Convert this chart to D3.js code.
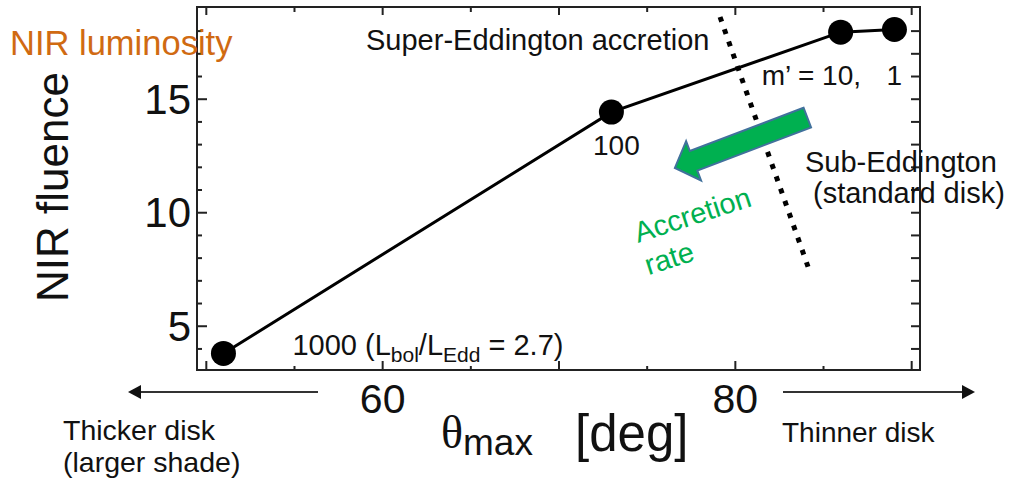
<!DOCTYPE html>
<html><head><meta charset="utf-8">
<script src="https://cdn.jsdelivr.net/npm/d3@7/dist/d3.min.js"></script>
<style>
body{margin:0;background:#fff}
svg{display:block}
text{font-family:"Liberation Sans",Arial,Helvetica,sans-serif;fill:#111}
</style>
</head><body>
<svg id="c" width="1010" height="484"></svg>
<script>
// ---- data ----
const thetaMax = [51.0, 73.0, 86.0, 89.05];
const nirFluence = [3.78, 14.41, 17.93, 18.05];
const accretionRate = ["1000", "100", "10", "1"];
const xMajorTicks = [50, 60, 70, 80, 90];
const xMinorTicks = [55, 65, 75, 85];
const xTickLabels = ["60", "80"];
const yMajorTicks = [5, 10, 15];
const yMinorTicks = [4, 6, 7, 8, 9, 11, 12, 13, 14, 16, 17, 18];
const yTickLabels = ["5", "10", "15"];
// annotation anchors in data units
const dividerLine = [[79.16, 18.6], [84.15, 7.6]];
const rateArrow = {tail: [84.11, 14.17], tip: [76.6, 11.95]};

// ---- layout ----
const svg = d3.select("#c");
const L = 197, R = 920, T = 7, B = 370;
const x = d3.scaleLinear().domain([49.5, 90.5]).range([L, R]);
const y = d3.scaleLinear().domain([3.05, 19.04]).range([B, T]);
const axisColor = "#222";

function styleAxis(g) {
  g.select(".domain").remove();
  g.selectAll(".tick line").attr("stroke", axisColor).attr("stroke-width", 2);
  g.selectAll("text").attr("fill", "#111").style("font-family", '"Liberation Sans",Arial,sans-serif');
}

// bottom axis
svg.append("g").attr("transform", `translate(0,${B})`)
  .call(d3.axisBottom(x).tickValues(xMajorTicks).tickSize(-9).tickPadding(14)
    .tickFormat(d => xTickLabels.includes(String(d)) ? String(d) : ""))
  .call(styleAxis)
  .call(g => g.selectAll("text").attr("font-size", 41));
svg.append("g").attr("transform", `translate(0,${B})`)
  .call(d3.axisBottom(x).tickValues(xMinorTicks).tickSize(-4).tickFormat(""))
  .call(styleAxis);
// top axis
svg.append("g").attr("transform", `translate(0,${T})`)
  .call(d3.axisTop(x).tickValues(xMajorTicks).tickSize(-8).tickFormat(""))
  .call(styleAxis);
svg.append("g").attr("transform", `translate(0,${T})`)
  .call(d3.axisTop(x).tickValues(xMinorTicks).tickSize(-5).tickFormat(""))
  .call(styleAxis);
// left axis
svg.append("g").attr("transform", `translate(${L},0)`)
  .call(d3.axisLeft(y).tickValues(yMajorTicks).tickSize(-10).tickPadding(6)
    .tickFormat((d, i) => yTickLabels[i]))
  .call(styleAxis)
  .call(g => g.selectAll("text").attr("font-size", 42).attr("dy", "0.35em"));
svg.append("g").attr("transform", `translate(${L},0)`)
  .call(d3.axisLeft(y).tickValues(yMinorTicks).tickSize(-5).tickFormat(""))
  .call(styleAxis);
// right axis
svg.append("g").attr("transform", `translate(${R},0)`)
  .call(d3.axisRight(y).tickValues(yMajorTicks.concat(yMinorTicks)).tickSize(-9).tickFormat(""))
  .call(styleAxis);

// frame
svg.append("rect").attr("x", L).attr("y", T).attr("width", R - L).attr("height", B - T)
  .attr("fill", "none").attr("stroke", axisColor).attr("stroke-width", 2);

// dotted divider
svg.append("line")
  .attr("x1", x(dividerLine[0][0])).attr("y1", y(dividerLine[0][1]))
  .attr("x2", x(dividerLine[1][0])).attr("y2", y(dividerLine[1][1]))
  .attr("stroke", "#000").attr("stroke-width", 5).attr("stroke-dasharray", "5,8");

// series
const pts = thetaMax.map((t, i) => ({t, f: nirFluence[i], lab: accretionRate[i]}));
svg.append("path").datum(pts)
  .attr("d", d3.line().x(d => x(d.t)).y(d => y(d.f)))
  .attr("fill", "none").attr("stroke", "#000").attr("stroke-width", 3);
svg.selectAll("circle.pt").data(pts).join("circle").attr("class", "pt")
  .attr("cx", d => x(d.t)).attr("cy", d => y(d.f)).attr("r", 12.5).attr("fill", "#000");

// green accretion arrow
(function () {
  const tx = x(rateArrow.tail[0]), ty = y(rateArrow.tail[1]);
  const px = x(rateArrow.tip[0]), py = y(rateArrow.tip[1]);
  const len = Math.hypot(px - tx, py - ty);
  const ux = (px - tx) / len, uy = (py - ty) / len;
  const nx = -uy, ny = ux;
  const hw = 10.5, hh = 21, hl = 20;
  const bx = px - ux * hl, by = py - uy * hl;
  const poly = [
    [tx + nx * hw, ty + ny * hw], [bx + nx * hw, by + ny * hw], [bx + nx * hh, by + ny * hh],
    [px, py], [bx - nx * hh, by - ny * hh], [bx - nx * hw, by - ny * hw], [tx - nx * hw, ty - ny * hw]
  ];
  svg.append("polygon").attr("points", poly.map(p => p.join(",")).join(" "))
    .attr("fill", "#00B050").attr("stroke", "#41719C").attr("stroke-width", 2).attr("stroke-linejoin", "miter");
})();

// point labels
const p0 = pts[0], p1 = pts[1], p2 = pts[2], p3 = pts[3];
const l0 = svg.append("text").attr("x", x(p0.t) + 69).attr("y", y(p0.f) + 2).attr("font-size", 29);
l0.append("tspan").text(p0.lab + " (L");
l0.append("tspan").attr("font-size", 21).attr("dy", 7).text("bol");
l0.append("tspan").attr("dy", -7).text("/L");
l0.append("tspan").attr("font-size", 21).attr("dy", 7).text("Edd");
l0.append("tspan").attr("dy", -7).text(" = 2.7)");
svg.append("text").attr("x", x(p1.t) + 5).attr("y", y(p1.f) + 43).attr("font-size", 28)
  .attr("text-anchor", "middle").text(p1.lab);
svg.append("text").attr("x", x(p2.t) - 79).attr("y", y(p2.f) + 53).attr("font-size", 28)
  .text("m\u2019 = " + p2.lab + ",");
svg.append("text").attr("x", x(p3.t) - 8).attr("y", y(p3.f) + 56).attr("font-size", 28)
  .text(p3.lab);

// region text
svg.append("text").attr("x", 366).attr("y", 50).attr("font-size", 29).text("Super-Eddington accretion");
const sub = svg.append("text").attr("font-size", 29);
sub.append("tspan").attr("x", 805).attr("y", 172).text("Sub-Eddington");
sub.append("tspan").attr("x", 813).attr("y", 203).text("(standard disk)");
const acc = svg.append("text").attr("transform", "translate(638,243) rotate(-18)")
  .attr("font-size", 29).style("fill", "#00B050");
acc.append("tspan").attr("x", 0).attr("y", 0).text("Accretion");
acc.append("tspan").attr("x", 0).attr("y", 34).text("rate");

// axis titles
svg.append("text").attr("x", 10).attr("y", 55).attr("font-size", 34.5).style("fill", "#D06A12").text("NIR luminosity");
svg.append("text").attr("transform", "translate(68,187) rotate(-90)").attr("text-anchor", "middle")
  .attr("font-size", 44).text("NIR fluence");
const xt = svg.append("text").attr("x", 441).attr("y", 448);
xt.append("tspan").style("font-family", '"Liberation Serif","Times New Roman",serif').attr("font-size", 46).text("\u03B8");
xt.append("tspan").attr("font-size", 37).attr("dy", 7).text("max");
svg.append("text").attr("x", 575).attr("y", 451).attr("font-size", 51).text("[deg]");

// disk-thickness arrows
const arrowColor = "#333";
function hArrow(x1, x2, yy) {
  const dir = Math.sign(x2 - x1), hl = 13, hw = 7;
  svg.append("line").attr("x1", x1).attr("x2", x2 - dir * hl).attr("y1", yy).attr("y2", yy)
    .attr("stroke", arrowColor).attr("stroke-width", 2);
  svg.append("polygon").attr("points", `${x2},${yy} ${x2 - dir * hl},${yy - hw} ${x2 - dir * hl},${yy + hw}`)
    .attr("fill", "#111");
}
hArrow(318, 128, 392);
hArrow(783, 975, 392);
svg.append("text").attr("x", 63).attr("y", 440).attr("font-size", 28.5).text("Thicker disk");
svg.append("text").attr("x", 63).attr("y", 472).attr("font-size", 28.5).text("(larger shade)");
svg.append("text").attr("x", 782).attr("y", 442).attr("font-size", 28).text("Thinner disk");
</script>
</body></html>
